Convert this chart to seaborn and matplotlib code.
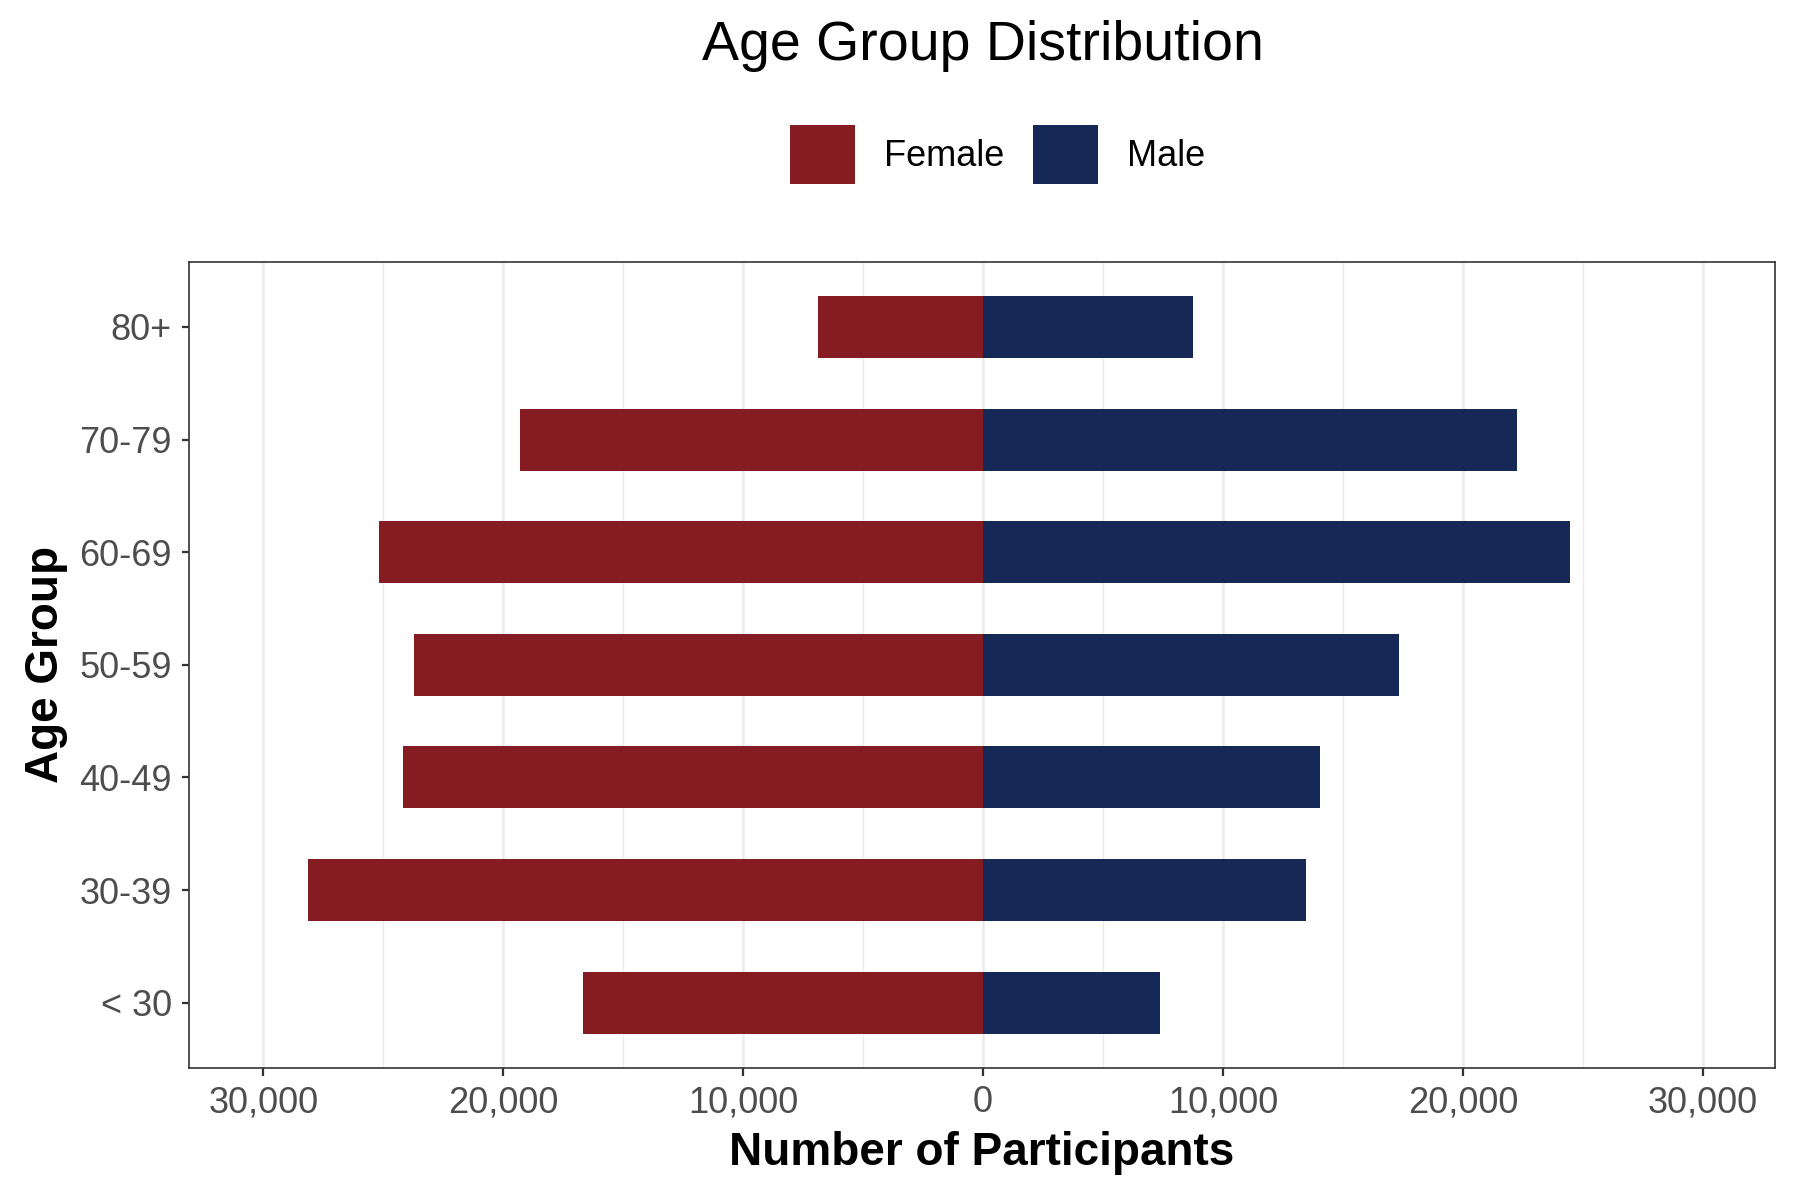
import pandas as pd
import matplotlib.pyplot as plt
import matplotlib.ticker as mticker
import seaborn as sns

# Age group counts by gender
age_groups = ['80+', '70-79', '60-69', '50-59', '40-49', '30-39', '< 30']
female = [6900, 19300, 25160, 23730, 24160, 28150, 16670]
male = [8760, 22260, 24450, 17350, 14030, 13480, 7380]

colors = {'Female': '#841C22', 'Male': '#162856'}

# Long table; female counts go to the left side
df = pd.DataFrame({
    'Age Group': age_groups * 2,
    'Count': [-v for v in female] + male,
    'Gender': ['Female'] * len(female) + ['Male'] * len(male),
})

sns.set_theme(style='white')
plt.rcParams['font.family'] = ['Liberation Sans', 'DejaVu Sans']

fig, ax = plt.subplots(figsize=(9, 6), dpi=200)
fig.subplots_adjust(left=0.105, right=0.986, top=0.782, bottom=0.11)

sns.barplot(data=df, y='Age Group', x='Count', hue='Gender', order=age_groups,
            hue_order=['Female', 'Male'], palette=colors, dodge=False,
            saturation=1, linewidth=0, width=0.55, orient='h', ax=ax,
            legend=True, zorder=3)

ax.set_xlim(-33100, 33000)
ax.set_ylim(6.58, -0.58)
ax.xaxis.set_major_locator(mticker.MultipleLocator(10000))
ax.xaxis.set_minor_locator(mticker.MultipleLocator(5000))
ax.xaxis.set_major_formatter(mticker.FuncFormatter(lambda v, p: f'{abs(int(round(v))):,}'))
ax.grid(axis='x', which='major', color='#EBEBEB', linewidth=0.9, zorder=0)
ax.grid(axis='x', which='minor', color='#EBEBEB', linewidth=0.5, zorder=0)
ax.grid(axis='y', visible=False)
ax.set_axisbelow(True)

for s in ax.spines.values():
    s.set_color('#333333')
    s.set_linewidth(0.6)

ax.tick_params(axis='both', which='major', length=2.7, width=0.8, color='#333333',
               labelsize=13, labelcolor='#4D4D4D', bottom=True, left=True)
ax.tick_params(axis='x', which='minor', length=0)

ax.set_xlabel('Number of Participants', fontsize=16.5, fontweight='bold', color='black')
ax.set_ylabel('Age Group', fontsize=16.5, fontweight='bold', color='black')

handles, labels = ax.get_legend_handles_labels()
ax.get_legend().remove()
leg = fig.legend(handles, labels, loc='center', bbox_to_anchor=(0.554, 0.871), ncol=2,
                 frameon=False, fontsize=13, handlelength=1.8, handleheight=2.15,
                 handletextpad=0.8, columnspacing=0.8)
for t in leg.get_texts():
    t.set_color('black')

fig.suptitle('Age Group Distribution', fontsize=20, x=0.546, y=0.962, va='center',
             color='black')

fig.savefig('out.png', dpi=200)
